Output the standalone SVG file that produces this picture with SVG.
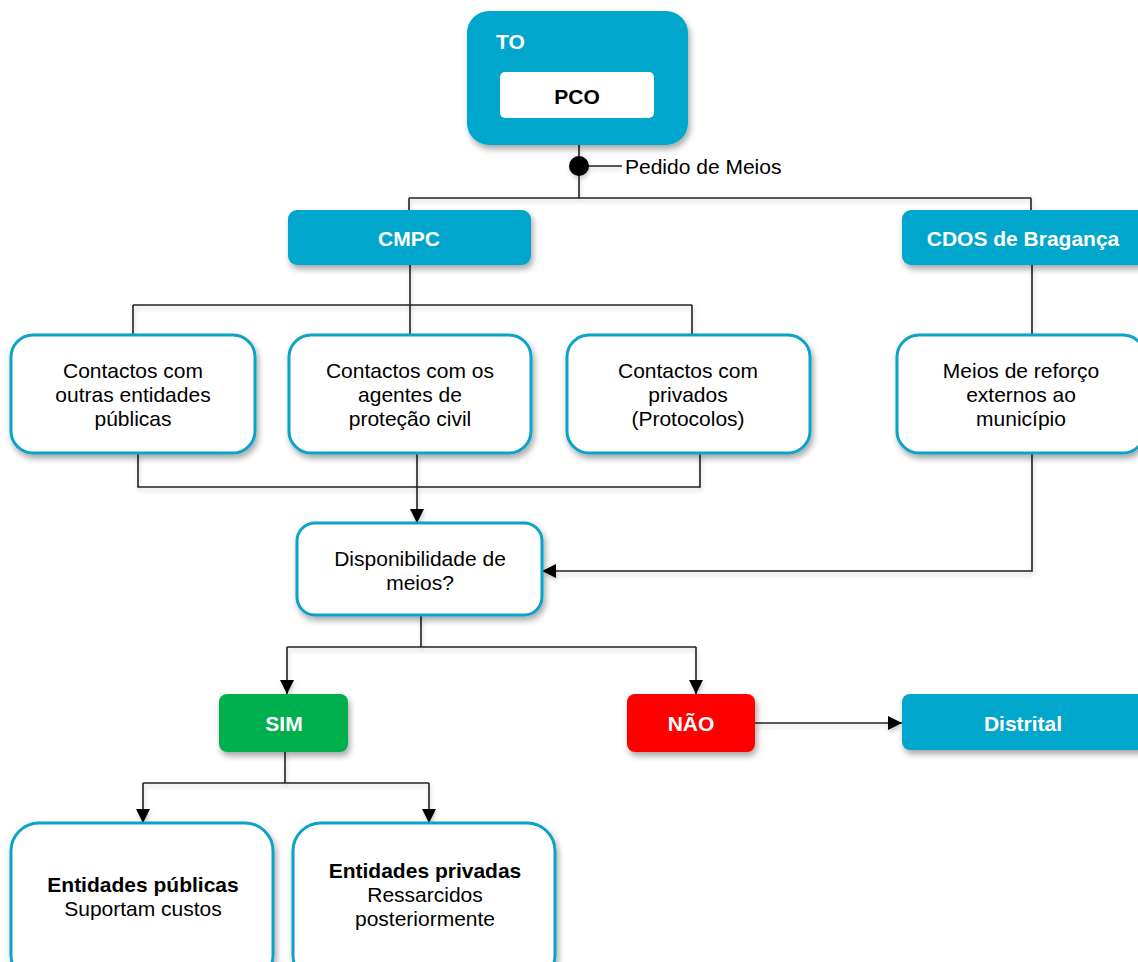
<svg xmlns="http://www.w3.org/2000/svg" width="1138" height="962" viewBox="0 0 1138 962">
<defs>
<filter id="sh" x="-10%" y="-10%" width="130%" height="140%">
<feDropShadow dx="2" dy="4" stdDeviation="3" flood-color="#000" flood-opacity="0.35"/>
</filter>
<filter id="lsh" x="-10%" y="-10%" width="120%" height="120%">
<feDropShadow dx="1" dy="3" stdDeviation="2" flood-color="#000" flood-opacity="0.2"/>
</filter>
<marker id="ah" viewBox="0 0 10 10" refX="10" refY="5" markerWidth="10" markerHeight="10" markerUnits="userSpaceOnUse" orient="auto">
<path d="M0,0 L10,5 L0,10 z" fill="#000"/>
</marker>
<marker id="ahb" viewBox="0 0 10 10" refX="10" refY="5" markerWidth="14" markerHeight="14" markerUnits="userSpaceOnUse" orient="auto">
<path d="M0,0 L10,5 L0,10 z" fill="#000"/>
</marker>
</defs>
<style>
.fill{fill:#02A6CB;filter:url(#sh)}
.wbox{fill:#fff;stroke:#0AA3C9;stroke-width:3;filter:url(#sh)}
.ln{fill:none;stroke:#222;stroke-width:1.6}
.t{font-family:"Liberation Sans",Arial,sans-serif;font-size:21px;fill:#000;text-anchor:middle}
.wb{font-family:"Liberation Sans",Arial,sans-serif;font-size:21px;font-weight:bold;fill:#fff;text-anchor:middle}
.bb{font-family:"Liberation Sans",Arial,sans-serif;font-size:21px;font-weight:bold;fill:#000;text-anchor:middle}
</style>
<rect width="1138" height="962" fill="#fff"/>

<g id="connectors" filter="url(#lsh)">
<path class="ln" d="M579,144 V198"/>
<path class="ln" d="M579,166 H622"/>
<circle cx="579" cy="166" r="10" fill="#000"/>
<path class="ln" d="M409,198 H1031"/>
<path class="ln" d="M409,198 V210"/>
<path class="ln" d="M1031,198 V210"/>
<path class="ln" d="M410,265 V335"/>
<path class="ln" d="M133,305 H692"/>
<path class="ln" d="M133,305 V335"/>
<path class="ln" d="M692,305 V335"/>
<path class="ln" d="M1032,265 V335"/>
<path class="ln" d="M138,453 V487 H700 V453"/>
<path class="ln" d="M417,453 V523" marker-end="url(#ahb)"/>
<path class="ln" d="M1032,453 V571 H542" marker-end="url(#ahb)"/>
<path class="ln" d="M421,615 V647"/>
<path class="ln" d="M287,647 H696"/>
<path class="ln" d="M287,647 V694" marker-end="url(#ahb)"/>
<path class="ln" d="M696,647 V694" marker-end="url(#ahb)"/>
<path class="ln" d="M285,752 V783"/>
<path class="ln" d="M143,783 H429"/>
<path class="ln" d="M143,783 V823" marker-end="url(#ahb)"/>
<path class="ln" d="M429,783 V823" marker-end="url(#ahb)"/>
<path class="ln" d="M755,723 H902" marker-end="url(#ahb)"/>
</g>
<text class="t" x="625" y="174" style="text-anchor:start">Pedido de Meios</text>

<g id="to">
<rect class="fill" x="467" y="11" width="221" height="134" rx="22"/>
<text class="wb" x="496" y="49" style="text-anchor:start">TO</text>
<rect x="500" y="72" width="154" height="46" rx="5" fill="#fff"/>
<text class="bb" x="577" y="104">PCO</text>
</g>

<g id="cmpc">
<rect class="fill" x="288" y="210" width="243" height="55" rx="9"/>
<text class="wb" x="409" y="246">CMPC</text>
</g>

<g id="cdos">
<rect class="fill" x="902" y="210" width="245" height="55" rx="9"/>
<text class="wb" x="1023" y="246">CDOS de Bragança</text>
</g>

<g id="c1">
<rect class="wbox" x="11" y="335" width="244" height="118" rx="22"/>
<text class="t" x="133" y="378">Contactos com</text>
<text class="t" x="133" y="402">outras entidades</text>
<text class="t" x="133" y="426">públicas</text>
</g>

<g id="c2">
<rect class="wbox" x="289" y="335" width="242" height="118" rx="22"/>
<text class="t" x="410" y="378">Contactos com os</text>
<text class="t" x="410" y="402">agentes de</text>
<text class="t" x="410" y="426">proteção civil</text>
</g>

<g id="c3">
<rect class="wbox" x="567" y="335" width="243" height="118" rx="22"/>
<text class="t" x="688" y="378">Contactos com</text>
<text class="t" x="688" y="402">privados</text>
<text class="t" x="688" y="426">(Protocolos)</text>
</g>

<g id="meios">
<rect class="wbox" x="897" y="335" width="248" height="118" rx="22"/>
<text class="t" x="1021" y="378">Meios de reforço</text>
<text class="t" x="1021" y="402">externos ao</text>
<text class="t" x="1021" y="426">município</text>
</g>

<g id="disp">
<rect class="wbox" x="297" y="523" width="245" height="92" rx="18"/>
<text class="t" x="420" y="566">Disponibilidade de</text>
<text class="t" x="420" y="590">meios?</text>
</g>

<g id="sim">
<rect x="219" y="694" width="129" height="58" rx="8" fill="#00B050" filter="url(#sh)"/>
<text class="wb" x="284" y="731">SIM</text>
</g>

<g id="nao">
<rect x="627" y="694" width="128" height="58" rx="8" fill="#FF0000" filter="url(#sh)"/>
<text class="wb" x="691" y="731">NÃO</text>
</g>

<g id="distrital">
<rect class="fill" x="902" y="694" width="245" height="56" rx="8"/>
<text class="wb" x="1023" y="731">Distrital</text>
</g>

<g id="pub">
<rect class="wbox" x="11" y="823" width="262" height="160" rx="28"/>
<text class="bb" x="143" y="892">Entidades públicas</text>
<text class="t" x="143" y="916">Suportam custos</text>
</g>

<g id="priv">
<rect class="wbox" x="293" y="823" width="262" height="160" rx="28"/>
<text class="bb" x="425" y="878">Entidades privadas</text>
<text class="t" x="425" y="902">Ressarcidos</text>
<text class="t" x="425" y="926">posteriormente</text>
</g>
</svg>
